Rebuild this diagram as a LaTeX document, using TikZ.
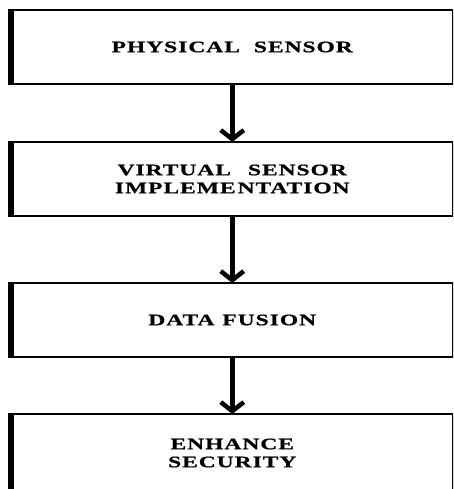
\documentclass[tikz,border=0pt]{standalone}
\usepackage{fontspec}
\newfontfamily\stagefont[FakeStretch=1.47,LetterSpace=6,FakeBold=0.8]{Liberation Serif Bold}
\usetikzlibrary{arrows.meta}

\tikzset{
  stage/.style={draw=black, line width=2.6pt, outer sep=0pt, inner sep=0pt,
    minimum width=442.5pt, minimum height=74pt, align=center,
    font=\stagefont\fontsize{16}{18}\selectfont},
  leftedge/.style={line width=6pt, shorten <=-1.3pt, shorten >=-1.3pt},
  flow/.style={line width=4.5pt, shorten <=1.3pt,
    -{Straight Barb[length=9pt,width=23pt]}},
}

\begin{document}
\begin{tikzpicture}[x=1pt, y=-1pt]
  \useasboundingbox (0,0) rectangle (453,489);
  \clip (0,0) rectangle (453,489);

  % process stages, top to bottom
  \node[stage] (sensor)  at (232.25,47)  {PHYSICAL\hspace{14pt}SENSOR};
  \node[stage] (virtual) at (232.25,179) {VIRTUAL\hspace{17pt}SENSOR\\IMPLEME\kern2pt NTATION};
  \node[stage] (fusion)  at (232.25,320) {DATA\hspace{8pt}FUSION};
  \node[stage, minimum height=78pt] (secure) at (232.25,453) {ENHANCE\\SECURITY};

  % heavy left border of each box
  \foreach \b in {sensor, virtual, fusion, secure}
    \draw[leftedge] (\b.north west) -- (\b.south west);

  % connectors
  \draw[flow] (sensor.south)  -- (virtual.north);
  \draw[flow] (virtual.south) -- (fusion.north);
  \draw[flow] (fusion.south)  -- (secure.north);
\end{tikzpicture}
\end{document}
